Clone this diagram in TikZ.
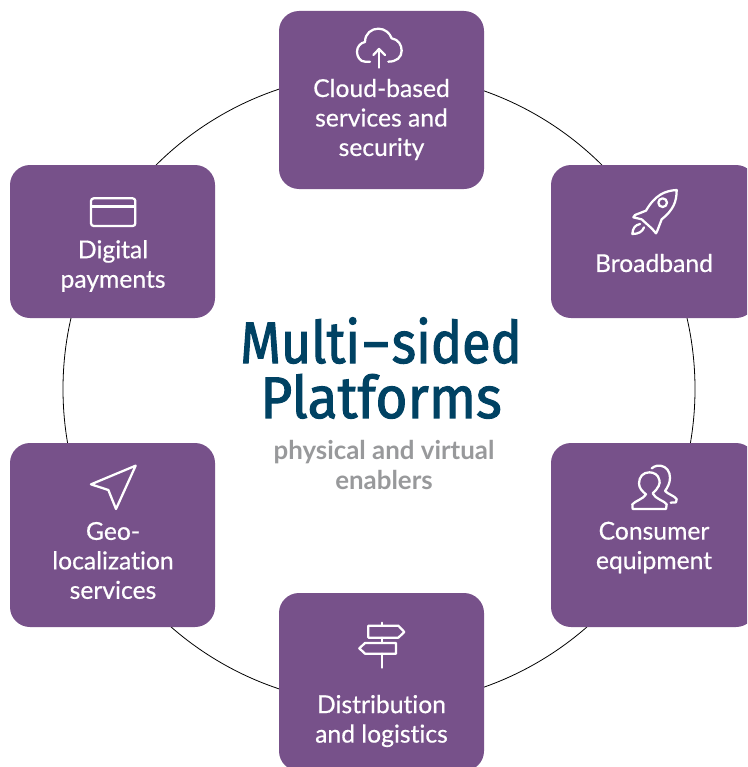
\documentclass[tikz,border=0pt]{standalone}
\usepackage{fontspec}
\setmainfont{Lato}
\newfontfamily\lblfont[FakeBold=0.5,Ligatures=NoCommon]{Lato}
\newfontfamily\subfont{Lato}[BoldFont=* Bold,Ligatures=NoCommon]
\newfontfamily\titlefont[FakeBold=1.7,FakeStretch=0.89]{Fira Sans}
\definecolor{plum}{HTML}{77518A}
\definecolor{deepblue}{HTML}{004263}
\definecolor{softgrey}{HTML}{98999B}
\tikzset{
  panel/.style={fill=plum,draw=none,rounded corners=15pt,minimum width=153.75pt,inner sep=0pt,outer sep=0pt},
  lbl/.style={text=white,align=center,inner sep=0pt,font=\lblfont\fontsize{18.5}{22.1}\selectfont},
  glyph/.style={draw=white,line width=1.7pt,line join=round,line cap=round,fill=none}
}
\begin{document}
\begin{tikzpicture}[x=0.75pt,y=-0.75pt]
\useasboundingbox (0,0) rectangle (747,767);
\clip (0,0) rectangle (747,767);
\node[circle,draw=black,line width=0.6pt,minimum size=474pt,inner sep=0pt] (ring) at (379,389) {};
% panels
\node[panel,minimum height=133.5pt] (cloud) at (381.5,100) {};
\node[panel,minimum height=114.75pt] (band) at (653.5,241.5) {};
\node[panel,minimum height=138pt] (equip) at (653.5,535) {};
\node[panel,minimum height=133.5pt] (logi) at (381.5,682) {};
\node[panel,minimum height=138pt] (geo) at (112.5,535) {};
\node[panel,minimum height=114.75pt] (pay) at (112.5,241.5) {};
% labels
\node[lbl] (cloudt) at (381.5,119.5) {Cloud-based\\services and\\security};
\node[lbl] (bandt) at (654,263) {Broadband};
\node[lbl] (equipt) at (654,547.5) {Consumer\\equipment};
\node[lbl] (logit) at (381.5,721) {Distribution\\and logistics};
\node[lbl] (geot) at (113,560.5) {Geo-\\localization\\services};
\node[lbl] (payt) at (113,266) {Digital\\payments};
% centre
\node[text=deepblue,align=center,inner sep=0pt,font=\titlefont\fontsize{44}{41.2}\selectfont] (title) at (381,368) {Multi\scalebox{1.5}[1]{-}sided\\\scalebox{1.055}[1]{Platforms}};
\node[text=softgrey,align=center,inner sep=0pt,font=\subfont\bfseries\fontsize{19.4}{22.1}\selectfont] (sub) at (384,465) {physical and virtual\\enablers};
% cloud icon
\begin{scope}[shift={(270,0)},x=0.25pt,y=-0.25pt]
\draw[glyph] (300,185) -- (285,185) .. controls (270,185) and (261,170) .. (261,155) .. controls (261,140) and (272,128) .. (285,126) .. controls (285,100) and (305,86) .. (325,86) .. controls (345,86) and (360,100) .. (365,115) .. controls (385,118) and (395,135) .. (395,152) .. controls (395,172) and (380,185) .. (355,185);
\draw[glyph] (327,203) -- (327,147);
\draw[glyph] (310,165) -- (327,147) -- (345,165);
\end{scope}
% rocket icon
\begin{scope}[shift={(540,160)},x=0.25pt,y=-0.25pt]
\draw[glyph] (410,90) .. controls (375,92) and (345,105) .. (318,152) -- (285,165) -- (280,172) -- (305,178) -- (335,205) -- (348,220) -- (352,212) -- (365,178) .. controls (400,150) and (410,125) .. (410,90) -- cycle;
\draw[glyph] (368,128) circle[radius=13];
\draw[glyph] (300,192) .. controls (285,195) and (278,205) .. (277,222) .. controls (295,222) and (308,215) .. (312,202);
\end{scope}
% people icon
\begin{scope}[shift={(540,435)},x=0.25pt,y=-0.25pt]
\draw[glyph] (278,222) -- (378,222) -- (380,208) .. controls (375,198) and (345,192) .. (338,175) .. controls (355,160) and (362,145) .. (358,135) .. controls (355,118) and (340,112) .. (328,112) .. controls (310,112) and (297,125) .. (297,145) .. controls (297,160) and (308,170) .. (318,178) .. controls (310,192) and (285,198) .. (277,208) -- cycle;
\draw[glyph] (335,100) .. controls (345,92) and (355,91) .. (362,92) .. controls (380,95) and (390,110) .. (390,128) .. controls (390,145) and (382,158) .. (375,168) .. controls (385,178) and (402,182) .. (410,192) -- (408,202) -- (392,203);
\end{scope}
% signpost icon
\begin{scope}[shift={(270,585)},x=0.25pt,y=-0.25pt]
\draw[glyph] (335,113) -- (335,122);
\draw[glyph] (295,122) -- (385,122) -- (403,141) -- (385,158) -- (295,158) -- cycle;
\draw[glyph] (335,158) -- (335,174);
\draw[glyph] (378,174) -- (285,174) -- (268,190) -- (285,206) -- (378,206) -- cycle;
\draw[glyph] (335,206) -- (335,248);
\end{scope}
% navigation icon
\begin{scope}[shift={(0,435)},x=0.25pt,y=-0.25pt]
\draw[glyph] (407,92) -- (273,148) -- (325,165) -- (348,222) -- cycle;
\end{scope}
% card icon
\begin{scope}[shift={(0,160)},x=0.25pt,y=-0.25pt]
\draw[glyph,rounded corners=2pt] (273,115) rectangle (406,198);
\draw[glyph,line width=2.4pt,line cap=butt] (273,140) -- (406,140);
\end{scope}
\end{tikzpicture}
\end{document}
